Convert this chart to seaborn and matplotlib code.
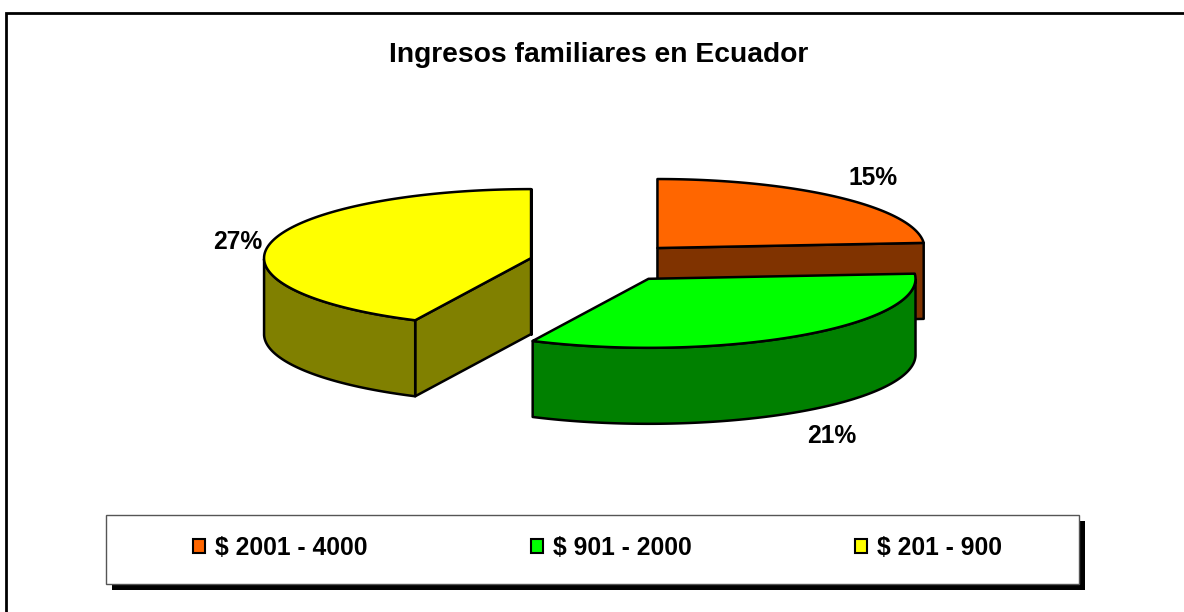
import numpy as np
import matplotlib
matplotlib.use("Agg")
import matplotlib.pyplot as plt
from matplotlib.patches import Patch, Rectangle
import seaborn as sns

title = "Ingresos familiares en Ecuador"
categories = ["$ 2001 - 4000", "$ 901 - 2000", "$ 201 - 900"]
percents = [15, 21, 27]
colors = ["#FF6600", "#00FF00", "#FFFF00"]

sns.set_theme(style="white")
plt.rcParams['font.family'] = ['Liberation Sans', 'DejaVu Sans']
plt.rcParams['font.weight'] = 'bold'

# pie layout, in pixels of the picture
cx, cy = 605.5, 262.5
rx, ry = 267, 69
depth = 76
explode = 0.286
label_pos = [(873, 178), (832, 436), (238, 242)]

fig = plt.figure(figsize=(11.84, 6.12), dpi=100)
ax = fig.add_axes([0, 0, 1, 1])
ax.set_xlim(0, 1184)
ax.set_ylim(612, 0)
ax.axis("off")


def rim(x0, y0, angles):
    rad = np.radians(angles)
    return x0 + rx * np.cos(rad), y0 - ry * np.sin(rad)


def poly(xs, ys, color, z):
    ax.fill(xs, ys, facecolor=color, edgecolor="black", linewidth=1.8,
            joinstyle="round", zorder=z)


sweeps = 360 * np.array(percents) / sum(percents)
ends = 90 - np.cumsum(sweeps)
starts = ends + sweeps
# back slice first, the green one sits in front of everything
draw_order = [0, 2, 1]

for z, i in enumerate(draw_order):
    start, end = starts[i], ends[i]
    mid = np.radians((start + end) / 2)
    x0 = cx + explode * rx * np.cos(mid)
    y0 = cy - explode * ry * np.sin(mid)
    dark = tuple(c * 0.5 for c in matplotlib.colors.to_rgb(colors[i]))
    base = 10 + z * 5

    theta = np.linspace(start, end, 200)
    xs, ys = rim(x0, y0, theta)

    # flat cut faces, only the ones turned to the viewer
    for ang, show in ((start, i == 2), (end, i in (0, 2))):
        if show:
            ex, ey = rim(x0, y0, np.array([ang]))
            poly([x0, ex[0], ex[0], x0], [y0, ey[0], ey[0] + depth, y0 + depth], dark, base)

    # outer wall, front half of the rim only
    front = np.sin(np.radians(theta)) <= 0
    if front.any():
        fx, fy = xs[front], ys[front]
        poly(np.r_[fx, fx[::-1]], np.r_[fy, fy[::-1] + depth], dark, base + 1)

    poly(np.r_[x0, xs], np.r_[y0, ys], colors[i], base + 2)

for (lx, ly), p in zip(label_pos, percents):
    ax.text(lx, ly, f"{p}%", ha="center", va="center", fontsize=17.7, color="black", zorder=40)

ax.text(598.5, 55, title, ha="center", va="center", fontsize=20.3, color="black")

# outer chart frame (only top and left show in the picture)
ax.plot([6, 6, 1184], [612, 12.5, 12.5], color="black", linewidth=2, solid_joinstyle="miter")

# legend box with the hard black shadow
ax.add_patch(Rectangle((112, 521), 973, 69, facecolor="black", edgecolor="none", zorder=50))
ax.add_patch(Rectangle((106, 515), 973, 69, facecolor="white", edgecolor="#555555",
                       linewidth=1, zorder=51))
handles = [Patch(facecolor=c, edgecolor="black", linewidth=1.5) for c in colors]
leg = ax.legend(handles, categories, ncol=3, frameon=False, loc="center",
                bbox_to_anchor=(597.5 / 1184, 1 - 548 / 612), fontsize=17.7,
                handlelength=0.5, handleheight=0.5, handletextpad=0.4,
                columnspacing=6.65, labelcolor="black")
leg.set_zorder(60)

fig.savefig("out.png", dpi=100)
